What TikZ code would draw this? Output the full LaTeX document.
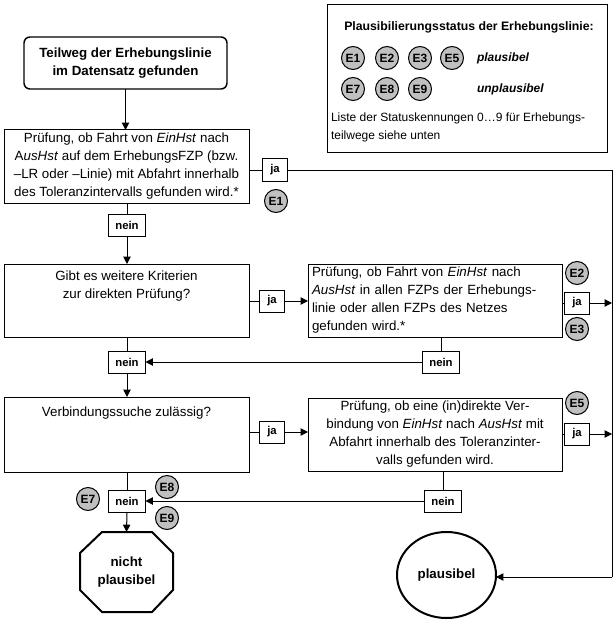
\documentclass[tikz,border=0pt]{standalone}
\usepackage{fontspec}
\setmainfont{Liberation Sans}
\usetikzlibrary{arrows.meta,shapes.geometric}
\definecolor{egray}{HTML}{C0C0C0}
\begin{document}
\begin{tikzpicture}[x=0.75pt,y=-0.75pt,
  every node/.style={inner sep=0pt, outer sep=0pt},
  line/.style={line width=0.75pt},
  arr/.style={line width=0.75pt, -{Triangle[length=5.5pt,width=5.5pt]}},
  box/.style={draw, line width=0.75pt, fill=white},
  txt/.style={font=\fontsize{10}{13.5}\selectfont, align=center},
  lbl/.style={draw, line width=0.75pt, fill=white, font=\fontsize{8.5}{10}\selectfont\bfseries,
              minimum width=27.75pt, minimum height=16.5pt},
  jal/.style={lbl, minimum width=18.75pt},
  ecirc/.style={circle, draw, line width=0.75pt, fill=egray, minimum size=17.25pt,
                font=\fontsize{9}{10}\selectfont\bfseries},
  bigline/.style={line width=1.5pt}
]
\useasboundingbox (0,0) rectangle (616,624);

% start
\node[box, rounded corners=4.5pt, line width=1.1pt, minimum width=152.25pt, minimum height=39pt,
      font=\fontsize{10}{13.5}\selectfont\bfseries, align=center] (start) at (125.5,63)
      {Teilweg der Erhebungslinie\\im Datensatz gefunden};

% box 1
\node[box, txt, minimum width=183.75pt, minimum height=54.75pt] (box1) at (126.5,166.5)
  {Prüfung, ob Fahrt von \textit{EinHst} nach\\A\textit{usHst} auf dem ErhebungsFZP (bzw.\\–LR oder –Linie) mit Abfahrt innerhalb\\des Toleranzintervalls gefunden wird.*};

% box 2
\node[box, minimum width=183.75pt, minimum height=54.75pt] (box2) at (126.5,300.5) {};
\node[txt, anchor=north] (box2t) at (126.5,271) {Gibt es weitere Kriterien\\zur direkten Prüfung?};

% box 3
\node[box, font=\fontsize{10}{13.5}\selectfont, align=left, text width=184.5pt, inner xsep=3pt,
      minimum height=54.75pt] (box3) at (435,300.5)
  {Prüfung, ob Fahrt von \textit{EinHst} nach\\\textit{AusHst} in allen FZPs der Erhebungs-\\linie oder allen FZPs des Netzes\\gefunden wird.*};

% box 4
\node[box, minimum width=183.75pt, minimum height=56.25pt] (box4) at (126.5,434.5) {};
\node[txt, anchor=north] (box4t) at (126.5,407) {Verbindungssuche zulässig?};

% box 5
\node[box, txt, minimum width=190.5pt, minimum height=54.75pt] (box5) at (435,434.5)
  {Prüfung, ob eine (in)direkte Ver-\\bindung von \textit{EinHst} nach \textit{AusHst} mit\\Abfahrt innerhalb des Toleranzinter-\\valls gefunden wird.};

% end nodes
\draw[bigline] (102,532) -- (152,532) -- (173,553) -- (173,590) -- (152,612) -- (102,612) -- (80,590) -- (80,553) -- cycle;
\node[minimum width=69.75pt, minimum height=60pt, align=center,
      font=\fontsize{10}{13.5}\selectfont\bfseries] (stop) at (126.5,572) {nicht\\plausibel};
\node[ellipse, draw, bigline, minimum width=74.25pt, minimum height=64.5pt,
      font=\fontsize{10}{13.5}\selectfont\bfseries] (plaus) at (446.5,575) {plausibel};

% labels
\node[jal] (ja1) at (275,170) {ja};
\node[ecirc] (e1) at (276,201) {E1};
\node[lbl] (nein1) at (127,225) {nein};
\node[jal] (ja2) at (272,301) {ja};
\node[ecirc] (e2) at (577,273) {E2};
\node[jal] (ja3) at (577,303) {ja};
\node[ecirc] (e3) at (577,329) {E3};
\node[lbl] (nein3) at (441,362) {nein};
\node[lbl] (nein2) at (127,362) {nein};
\node[ecirc] (e5) at (577,403) {E5};
\node[jal] (ja4) at (272,432) {ja};
\node[jal] (ja5) at (577,434) {ja};
\node[lbl] (nein5) at (443,501) {nein};
\node[lbl] (nein4) at (127,501) {nein};
\node[ecirc] (e7) at (88,499) {E7};
\node[ecirc] (e8) at (167,487) {E8};
\node[ecirc] (e9) at (167,518) {E9};

\coordinate (rt) at (612,170);
\coordinate (rb) at (612,577);

% connectors
\draw[arr] (start.south) -- (start.south |- box1.north);
\draw[line] (box1.east |- ja1) -- (ja1.west);
\draw[line] (ja1.east) -- (rt) -- (rb);
\draw[arr] (rb) -- (rb -| plaus.east);
\draw[line] (box1.south -| nein1) -- (nein1.north);
\draw[arr] (nein1.south) -- (nein1.south |- box2.north);
\draw[line] (box2.east |- ja2) -- (ja2.west);
\draw[arr] (ja2.east) -- (ja2 -| box3.west);
\draw[line] (box3.east |- ja3) -- (ja3.west);
\draw[arr] (ja3.east) -- (ja3 -| rt);
\draw[line] (box3.south -| nein3) -- (nein3.north);
\draw[arr] (nein3.west) -- (nein2.east);
\draw[line] (box2.south -| nein2) -- (nein2.north);
\draw[arr] (nein2.south) -- (nein2.south |- box4.north);
\draw[line] (box4.east |- ja4) -- (ja4.west);
\draw[arr] (ja4.east) -- (ja4 -| box5.west);
\draw[line] (box5.east |- ja5) -- (ja5.west);
\draw[arr] (ja5.east) -- (ja5 -| rt);
\draw[line] (box5.south -| nein5) -- (nein5.north);
\draw[arr] (nein5.west) -- (nein4.east);
\draw[line] (box4.south -| nein4) -- (nein4.north);
\draw[arr] (nein4.south) -- (stop.north);

% legend
\node[draw, line width=0.75pt, minimum width=210pt, minimum height=111pt] (legend) at (467,79) {};
\node[font=\fontsize{9.2}{11}\selectfont\bfseries] (ltitle) at (469,27) {Plausibilierungsstatus der Erhebungslinie:};
\node[ecirc] (l1) at (353,58) {E1};
\node[ecirc] (l2) at (387,58) {E2};
\node[ecirc] (l3) at (420,58) {E3};
\node[ecirc] (l5) at (452,58) {E5};
\node[anchor=west, font=\fontsize{9}{11}\selectfont\bfseries\itshape] (lp) at (477,58) {plausibel};
\node[ecirc] (l7) at (353,89) {E7};
\node[ecirc] (l8) at (387,89) {E8};
\node[ecirc] (l9) at (420,89) {E9};
\node[anchor=west, font=\fontsize{9}{11}\selectfont\bfseries\itshape] (lu) at (477,89) {unplausibel};
\node[anchor=north west, align=left, font=\fontsize{9}{13.5}\selectfont] (lnote) at (331,113)
  {Liste der Statuskennungen 0…9 für Erhebungs-\\teilwege siehe unten};
\end{tikzpicture}
\end{document}
